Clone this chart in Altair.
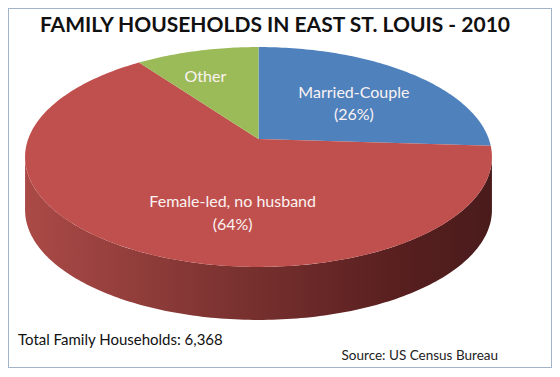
import numpy as np
import altair as alt

# ---------------- data ----------------
categories = ["Married-Couple", "Female-led, no husband", "Other"]
shares = [26, 64, 10]
label_lines = [["Married-Couple", "(26%)"], ["Female-led, no husband", "(64%)"], ["Other"]]
title_text = ["FAMILY HOUSEHOLDS IN EAST ST. LOUIS - 2010"]
note_left = ["Total Family Households: 6,368"]
note_right = ["Source: US Census Bureau"]

# ---------------- style ----------------
colors = ["#4f81bd", "#c0504d", "#9bbb59"]
side_stops = [(0.0, "#ab4a47"), (0.45, "#7a3230"), (0.8, "#581f1f"), (1.0, "#4a1b1b")]
FONT = "Lato"
W, H = 544, 360
SCALE = 230.3          # projection scale (pie radius in px)
CX, CY = 250.5, 131.0  # pie apex position
PERSP = 0.1636         # perspective factor
TILT = 0.4646          # vertical squash
DEPTH = 53.0 / SCALE   # side thickness
LINE_H = 22.5
label_offsets = {"Married-Couple": (1, 6), "Female-led, no husband": (47, 13), "Other": (-14, -6)}


def proj(theta_deg, r=1.0):
    t = np.radians(theta_deg)
    u, v = r * np.sin(t), r * np.cos(t)
    den = 1 + PERSP * v
    return u / den, TILT * v / den


# ---------------- geometry from the shares ----------------
total = float(sum(shares))
ends = np.cumsum(shares) / total * 360.0
starts = np.concatenate([[0.0], ends[:-1]])

top_features = []
label_rows = []
for cat, s, e, lines in zip(categories, starts, ends, label_lines):
    angs = np.linspace(s, e, max(4, int((e - s) / 1.0) + 2))
    ring = [[0.0, 0.0]] + [list(map(float, proj(a))) for a in angs] + [[0.0, 0.0]]
    top_features.append({"type": "Feature", "properties": {"category": cat},
                         "geometry": {"type": "Polygon", "coordinates": [ring]}})
    mx, my = proj((s + e) / 2, 0.6)
    dx, dy = label_offsets[cat]
    n = len(lines)
    for i, txt in enumerate(lines):
        off = (i - (n - 1) / 2) * LINE_H
        label_rows.append({"lon": float(mx + dx / SCALE),
                           "lat": float(my - (dy + off) / SCALE),
                           "text": txt})

# visible front wall: between the two silhouette extremes
a_right = np.degrees(np.arccos(-PERSP))
a_left = 360 - a_right
side_features = []
for cat, s, e in zip(categories, starts, ends):
    lo, hi = max(s, a_right), min(e, a_left)
    if hi <= lo:
        continue
    angs = np.linspace(lo, hi, int(hi - lo) + 2)
    top = [list(map(float, proj(a))) for a in angs]
    bottom = [[x, y - DEPTH] for x, y in top[::-1]]
    ring = top + bottom + [top[0]]
    side_features.append({"type": "Feature", "properties": {"category": cat},
                          "geometry": {"type": "Polygon", "coordinates": [ring]}})

projection = dict(type="identity", scale=SCALE, translate=[CX, CY], reflectY=True)

side = alt.Chart(alt.Data(values=side_features)).mark_geoshape(
    fill=alt.Gradient(gradient="linear", x1=0, x2=1, y1=0, y2=0,
                      stops=[alt.GradientStop(offset=o, color=c) for o, c in side_stops]),
    strokeWidth=0,
).project(**projection)

top = alt.Chart(alt.Data(values=top_features)).mark_geoshape(strokeWidth=0).encode(
    fill=alt.Color("properties.category:N",
                   scale=alt.Scale(domain=categories, range=colors), legend=None)
).project(**projection)

labels = alt.Chart(alt.Data(values=label_rows)).mark_text(
    font=FONT, fontSize=16, color="#fbf3f3", align="center", baseline="middle"
).encode(longitude="lon:Q", latitude="lat:Q", text="text:N").project(**projection)

title = alt.Chart(alt.Data(values=[{"t": t} for t in title_text])).mark_text(
    font=FONT, fontSize=21, fontWeight="bold", color="#111111", align="center",
    baseline="alphabetic"
).encode(x=alt.value(267), y=alt.value(24), text="t:N")

left_note = alt.Chart(alt.Data(values=[{"t": t} for t in note_left])).mark_text(
    font=FONT, fontSize=15, color="#111111", align="left", baseline="alphabetic"
).encode(x=alt.value(10), y=alt.value(337), text="t:N")

right_note = alt.Chart(alt.Data(values=[{"t": t} for t in note_right])).mark_text(
    font=FONT, fontSize=13.5, color="#222222", align="right", baseline="alphabetic"
).encode(x=alt.value(490), y=alt.value(352), text="t:N")

chart = alt.layer(side, top, labels, title, left_note, right_note).properties(
    width=W, height=H, autosize=alt.AutoSizeParams(type="none"), padding=0,
    background="white"
).configure_view(stroke="#a3b4c9", strokeWidth=2)

chart.save("out.html", embed_options={"renderer": "svg", "actions": False})
